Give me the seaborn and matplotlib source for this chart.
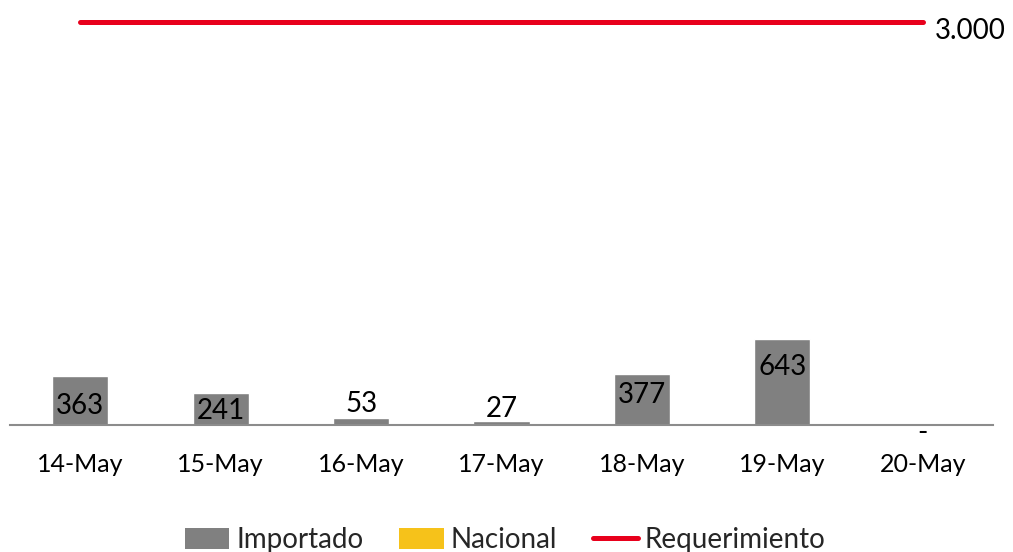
import matplotlib
matplotlib.use("Agg")
import matplotlib.pyplot as plt
import seaborn as sns
import numpy as np
import pandas as pd
from matplotlib.patches import Patch
from matplotlib.lines import Line2D

categories = ["14-May", "15-May", "16-May", "17-May", "18-May", "19-May", "20-May"]
importado = [363, 241, 53, 27, 377, 643, 0]
nacional = [0, 0, 0, 0, 0, 0, 0]
requerimiento = [3000, 3000, 3000, 3000, 3000, 3000, 3000]

# style: vertical label offsets in pixels (center of text relative to bar top)
label_dy = [-30, -18, 14, 12, -21, -28, -8]

sns.set_theme(style="white")
plt.rcParams['font.family'] = ['Lato', 'DejaVu Sans']

GRAY = "#808080"
YELLOW = "#F6C21A"
RED = "#E8001C"

fig = plt.figure(figsize=(10.13, 5.52), dpi=100)
W, H = 1013, 552
ax = fig.add_axes([10 / W, 1 - 425 / H, 983 / W, 420 / H])

df = pd.DataFrame({"cat": categories, "Importado": importado, "Nacional": nacional})
sns.barplot(data=df, x="cat", y="Importado", color=GRAY, width=0.4, ax=ax,
            saturation=1, order=categories)
sns.barplot(data=df, x="cat", y="Nacional", color=YELLOW, width=0.4, ax=ax,
            saturation=1, order=categories)
sns.lineplot(x=np.arange(len(categories)), y=requerimiento, color=RED, linewidth=3.6,
             ax=ax, solid_capstyle="round")

ax.set_xlim(-0.5, len(categories) - 0.5)
ax.set_ylim(0, 3000 * 420 / 403)


def fmt(v):
    if v == 0:
        return "-"
    return f"{v:,.0f}".replace(",", ".")


for i, (v, dy) in enumerate(zip(importado, label_dy)):
    ax.annotate(fmt(v), xy=(i, v), xytext=(0, dy), textcoords="offset pixels",
                ha="center", va="center", fontsize=20, color="black")

ax.annotate(fmt(requerimiento[-1]), xy=(len(categories) - 1, requerimiento[-1]),
            xytext=(12, -9), textcoords="offset pixels", ha="left", va="center",
            fontsize=20, color="black", annotation_clip=False)

for s in ["top", "right", "left"]:
    ax.spines[s].set_visible(False)
ax.spines["bottom"].set_color("#8C8C8C")
ax.spines["bottom"].set_linewidth(1.5)
ax.set_yticks([])
ax.set_xlabel("")
ax.set_ylabel("")
ax.tick_params(axis="x", length=0, pad=20, labelsize=18, colors="black")

handles = [Patch(facecolor=GRAY, edgecolor="none"),
           Patch(facecolor=YELLOW, edgecolor="none"),
           Line2D([0], [0], color=RED, linewidth=3.6)]
fig.legend(handles, ["Importado", "Nacional", "Requerimiento"], loc="center",
           bbox_to_anchor=(505 / W, 1 - 540 / H), ncol=3, frameon=False,
           fontsize=20, handlelength=1.6, handleheight=0.8, handletextpad=0.25,
           columnspacing=1.3)

fig.savefig("out.png", dpi=100)
